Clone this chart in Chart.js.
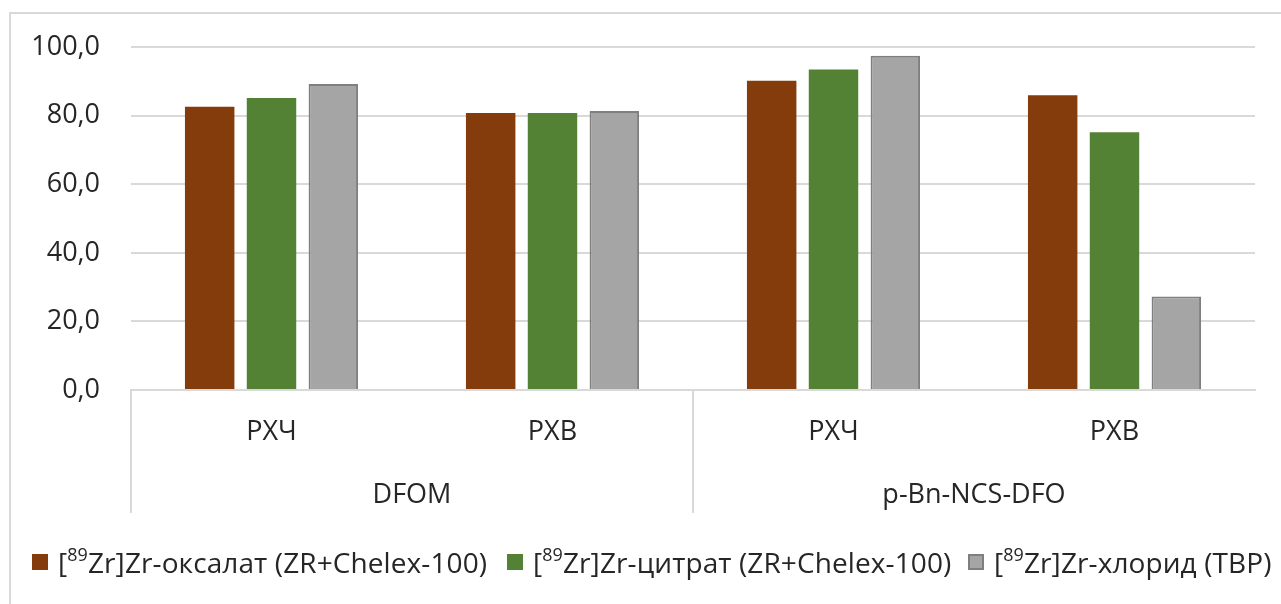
<!DOCTYPE html>
<html>
<head>
<meta charset="utf-8">
<script src="https://cdn.jsdelivr.net/npm/chart.js@4.4.1/dist/chart.umd.min.js"></script>
<style>
  html, body { margin: 0; padding: 0; background: #fff; }
  body { width: 1281px; height: 604px; position: relative; overflow: hidden; font-family: "Open Sans", sans-serif; }
  #frame { position: absolute; left: 9px; top: 12px; width: 1400px; height: 800px;
           border-left: 2px solid #d9d9d9; border-top: 2px solid #d9d9d9; }
  #c { position: absolute; left: 0; top: 0; }
  .lg { position: absolute; top: 542px; display: flex; align-items: center; white-space: nowrap;
        font-size: 28px; color: #262626; line-height: 40px; letter-spacing: 0.1px; }
  .sw { display: inline-block; width: 16px; height: 16px; margin-right: 10px; box-sizing: border-box; }
  .lg sup { font-size: 0.64em; line-height: 0; position: relative; top: -0.08em; }
</style>
</head>
<body>
<div id="frame"></div>
<canvas id="c" width="1281" height="604"></canvas>
<div id="legend"></div>
<script>
// Sub-categories (method) and their parent groups (chelator)
const categories = ['РХЧ', 'РХВ', 'РХЧ', 'РХВ'];
const groups = ['DFOM', 'p-Bn-NCS-DFO'];

// Radiochemical yield, %
const oxalateValues = [82.6, 80.8, 90.2, 86.0];
const citrateValues = [85.2, 80.8, 93.5, 75.2];
const chlorideValues = [89.3, 81.4, 97.5, 27.3];

// Series names: isotope mass number + remainder of the label
const seriesIsotope = ['89', '89', '89'];
const seriesNames = ['Zr-оксалат (ZR+Chelex-100)', 'Zr-цитрат (ZR+Chelex-100)', 'Zr-хлорид (TBP)'];

// Value axis
const yTicks = [0, 20, 40, 60, 80, 100];

const colors = ['#843C0C', '#548235', '#A5A5A5'];
const borders = ['#843C0C', '#548235', '#7F7F7F'];
const legendLeft = [32, 507, 968];

Chart.defaults.font.family = '"Open Sans", sans-serif';
Chart.defaults.font.size = 27;
Chart.defaults.color = '#262626';

const seriesValues = [oxalateValues, citrateValues, chlorideValues];
const datasets = seriesValues.map((vals, i) => ({
  label: '[' + seriesIsotope[i] + 'Zr]' + seriesNames[i],
  data: vals,
  backgroundColor: colors[i],
  borderColor: borders[i],
  borderWidth: i === 2 ? 2 : 0,
  categoryPercentage: 0.66,
  barPercentage: 0.8
}));

new Chart(document.getElementById('c'), {
  type: 'bar',
  data: { labels: categories, datasets },
  options: {
    responsive: false,
    devicePixelRatio: 1,
    animation: false,
    layout: { padding: { left: 0, right: 26, top: 46, bottom: 84 } },
    plugins: { legend: { display: false }, tooltip: { enabled: false } },
    scales: {
      x: {
        type: 'category',
        position: 'bottom',
        weight: 0,
        offset: true,
        border: { display: true, color: '#d9d9d9', width: 2 },
        grid: {
          display: true,
          offset: true,
          drawOnChartArea: false,
          drawTicks: true,
          tickLength: 123,
          lineWidth: 2,
          // only the boundaries of the two chelator groups are drawn
          color: ctx => (ctx.index % 2 === 0 ? '#d9d9d9' : 'rgba(0,0,0,0)')
        },
        ticks: { padding: -97, maxRotation: 0, autoSkip: false },
        afterFit: s => { s.height = 80; }
      },
      x2: {
        type: 'category',
        position: 'bottom',
        weight: 1,
        labels: groups,
        offset: true,
        border: { display: false },
        grid: { display: false, drawTicks: false, tickLength: 0 },
        ticks: { padding: 9, maxRotation: 0, autoSkip: false },
        afterFit: s => { s.height = 50; }
      },
      y: {
        min: yTicks[0],
        max: yTicks[yTicks.length - 1],
        border: { display: false },
        grid: { color: '#d9d9d9', lineWidth: 2, drawTicks: false },
        afterBuildTicks: s => { s.ticks = yTicks.map(v => ({ value: v })); },
        ticks: {
          padding: 31,
          callback: v => v.toFixed(1).replace('.', ',')
        },
        afterFit: s => { s.width = 131; }
      }
    }
  }
});

// Legend row with superscript mass numbers
const legend = document.getElementById('legend');
seriesNames.forEach((name, i) => {
  const item = document.createElement('div');
  item.className = 'lg';
  item.style.left = legendLeft[i] + 'px';
  const sw = document.createElement('span');
  sw.className = 'sw';
  sw.style.background = colors[i];
  if (i === 2) sw.style.border = '2px solid ' + borders[i];
  const tx = document.createElement('span');
  tx.append('[');
  const sup = document.createElement('sup');
  sup.textContent = seriesIsotope[i];
  tx.append(sup);
  tx.append('Zr]' + name);
  item.append(sw, tx);
  legend.append(item);
});
</script>
</body>
</html>
